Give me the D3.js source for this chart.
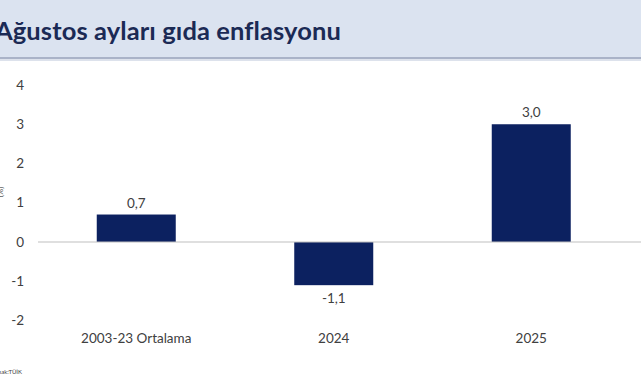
<!DOCTYPE html>
<html><head><meta charset="utf-8">
<script src="https://cdn.jsdelivr.net/npm/d3@7"></script>
<style>body{margin:0;background:#fff;}svg{display:block;}</style>
</head><body>
<script>
const categories = ["2003-23 Ortalama", "2024", "2025"];
const values = [0.7, -1.1, 3.0];
const yTicks = [-2, -1, 0, 1, 2, 3, 4];
const title = "Ağustos ayları gıda enflasyonu";
const source = "Kaynak:TÜİK";

const W = 641, H = 380;
const svg = d3.select("body").append("svg").attr("width", W).attr("height", H);
const font = "Lato, 'Open Sans', 'Noto Sans', sans-serif";

// header band
svg.append("rect").attr("x",0).attr("y",0).attr("width",W).attr("height",58).attr("fill","#dbe3f0");
svg.append("rect").attr("x",0).attr("y",57).attr("width",W).attr("height",2).attr("fill","#aab3c8");
svg.append("rect").attr("x",0).attr("y",59).attr("width",W).attr("height",2).attr("fill","#dde2ec");
svg.append("text").attr("x",-5).attr("y",40).text(title)
  .attr("font-family",font).attr("font-size",25.5).attr("letter-spacing",0.1)
  .attr("font-weight","bold").attr("fill","#1b2a55");

const y = d3.scaleLinear().domain([-2,4]).range([320.5, 85]);
const x = d3.scaleBand().domain(categories).range([37.5, 630]).paddingInner(0.6).paddingOuter(0.3);

// y tick labels
svg.append("g").selectAll("text").data(yTicks).join("text")
  .attr("x", 24).attr("y", d => y(d)).attr("dy","0.35em").attr("text-anchor","end")
  .attr("font-family",font).attr("font-size",13.5).attr("fill","#404040").text(d => d);

// bars
svg.append("g").selectAll("rect").data(values).join("rect")
  .attr("x", (d,i) => x(categories[i]))
  .attr("width", x.bandwidth())
  .attr("y", d => y(Math.max(0,d)))
  .attr("height", d => Math.abs(y(d) - y(0)))
  .attr("fill","#0c2160");

// zero line
svg.append("line").attr("x1",38).attr("x2",W).attr("y1",y(0)).attr("y2",y(0))
  .attr("stroke","#bfbfbf").attr("stroke-width",1);

// value labels
const fmt = v => d3.format(".1f")(v).replace(".", ",").replace("−","-");
svg.append("g").selectAll("text").data(values).join("text")
  .attr("x", (d,i) => x(categories[i]) + x.bandwidth()/2)
  .attr("y", d => d >= 0 ? y(d) - 7 : y(d) + 18)
  .attr("text-anchor","middle")
  .attr("font-family",font).attr("font-size",13.5).attr("fill","#404040").text(fmt);

// category labels
svg.append("g").selectAll("text").data(categories).join("text")
  .attr("x", d => x(d) + x.bandwidth()/2).attr("y", 343)
  .attr("text-anchor","middle")
  .attr("font-family",font).attr("font-size",13.5).attr("fill","#404040").text(d => d);

// rotated axis label (cut off at left edge, as in reference)
svg.append("text").attr("transform","translate(3,192) rotate(-90)")
  .attr("text-anchor","middle").attr("font-family",font).attr("font-size",8).attr("fill","#404040").text("(%)");

// source (cut off at left edge, as in reference)
svg.append("text").attr("x",22).attr("y",374).attr("text-anchor","end")
  .attr("font-family",font).attr("font-size",6).attr("fill","#404040").text(source);
</script>
</body></html>
